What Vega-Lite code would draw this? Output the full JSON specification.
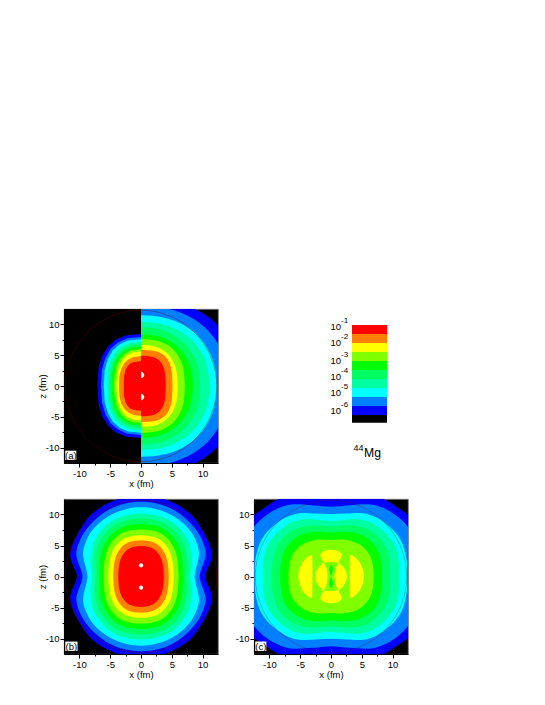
{"$schema":"https://vega.github.io/schema/vega-lite/v6.json","padding":{"left":36,"top":308,"right":0,"bottom":0},"background":"white","bounds":"flush","spacing":36,"columns":2,
"config":{"view":{"fill":"black","stroke":"#777","strokeWidth":0.8},"axis":{"labelFont":"Liberation Sans","titleFont":"Liberation Sans","labelFontSize":9.5,"titleFontSize":9.5,"titleFontWeight":"normal","labelColor":"#000","titleColor":"#000","tickColor":"#000","domainColor":"#000","grid":false,"labelOverlap":false,"labelFlush":false,"labelPadding":1},"axisX":{"titlePadding":1},"axisY":{"titlePadding":-2}},
"datasets":{
"cr":[{"x":12.3,"y":0},{"x":11.36,"y":4.71},{"x":8.7,"y":8.7},{"x":4.71,"y":11.36},{"x":0,"y":12.3},{"x":-4.71,"y":11.36},{"x":-8.7,"y":8.7},{"x":-11.36,"y":4.71},{"x":-12.3,"y":0},{"x":-11.36,"y":-4.71},{"x":-8.7,"y":-8.7},{"x":-4.71,"y":-11.36},{"x":0,"y":-12.3},{"x":4.71,"y":-11.36},{"x":8.7,"y":-8.7},{"x":11.36,"y":-4.71}],
"lab":[{"p":"a","t":"(a)","x":-12.3,"x2":-10.5,"y":-10.5,"y2":-12.0,"tx":-11.4,"ty":-11.3},{"p":"b","t":"(b)","x":-12.3,"x2":-10.3,"y":-10.5,"y2":-12.0,"tx":-11.3,"ty":-11.3},{"p":"c","t":"(c)","x":-12.3,"x2":-10.5,"y":-10.5,"y2":-12.0,"tx":-11.4,"ty":-11.3}],
"ar":[
{"k":9,"x":0,"y":14.5},{"k":9,"x":4.54,"y":14.05},{"k":9,"x":8.26,"y":12.72},{"k":9,"x":11.32,"y":10.9},{"k":9,"x":13.59,"y":8.2},{"k":9,"x":15.02,"y":4.25},{"k":9,"x":15.5,"y":0},{"k":9,"x":15.02,"y":-4.25},{"k":9,"x":13.59,"y":-8.2},{"k":9,"x":11.32,"y":-10.9},{"k":9,"x":8.26,"y":-12.72},{"k":9,"x":4.54,"y":-14.05},{"k":9,"x":0,"y":-14.5},{"k":9,"x":-4.54,"y":-14.05},{"k":9,"x":-4.54,"y":14.05},
{"k":8,"x":0,"y":13},{"k":8,"x":4.16,"y":12.6},{"k":8,"x":7.57,"y":11.4},{"k":8,"x":10.37,"y":9.49},{"k":8,"x":12.45,"y":6.93},{"k":8,"x":13.76,"y":3.81},{"k":8,"x":14.2,"y":0},{"k":8,"x":13.76,"y":-3.81},{"k":8,"x":12.45,"y":-6.93},{"k":8,"x":10.37,"y":-9.49},{"k":8,"x":7.57,"y":-11.4},{"k":8,"x":4.16,"y":-12.6},{"k":8,"x":0,"y":-13},{"k":8,"x":-4.16,"y":-12.6},{"k":8,"x":-4.16,"y":12.6},
{"k":7,"x":0,"y":11.5},{"k":7,"x":3.6,"y":11.14},{"k":7,"x":6.56,"y":10.09},{"k":7,"x":8.98,"y":8.4},{"k":7,"x":10.79,"y":6.13},{"k":7,"x":11.92,"y":3.37},{"k":7,"x":12.3,"y":0},{"k":7,"x":11.92,"y":-3.37},{"k":7,"x":10.79,"y":-6.13},{"k":7,"x":8.98,"y":-8.4},{"k":7,"x":6.56,"y":-10.09},{"k":7,"x":3.6,"y":-11.14},{"k":7,"x":0,"y":-11.5},{"k":7,"x":-3.6,"y":-11.14},{"k":7,"x":-3.6,"y":11.14},
{"k":6,"x":0,"y":10.4},{"k":6,"x":3.25,"y":10.08},{"k":6,"x":5.92,"y":9.12},{"k":6,"x":8.1,"y":7.59},{"k":6,"x":9.73,"y":5.54},{"k":6,"x":10.76,"y":3.05},{"k":6,"x":11.1,"y":0},{"k":6,"x":10.76,"y":-3.05},{"k":6,"x":9.73,"y":-5.54},{"k":6,"x":8.1,"y":-7.59},{"k":6,"x":5.92,"y":-9.12},{"k":6,"x":3.25,"y":-10.08},{"k":6,"x":0,"y":-10.4},{"k":6,"x":-3.25,"y":-10.08},{"k":6,"x":-3.25,"y":10.08},
{"k":5,"x":0,"y":9.5},{"k":5,"x":2.81,"y":9.21},{"k":5,"x":5.12,"y":8.33},{"k":5,"x":7.01,"y":6.94},{"k":5,"x":8.42,"y":5.06},{"k":5,"x":9.3,"y":2.78},{"k":5,"x":9.6,"y":0},{"k":5,"x":9.3,"y":-2.78},{"k":5,"x":8.42,"y":-5.06},{"k":5,"x":7.01,"y":-6.94},{"k":5,"x":5.12,"y":-8.33},{"k":5,"x":2.81,"y":-9.21},{"k":5,"x":0,"y":-9.5},{"k":5,"x":-2.81,"y":-9.21},{"k":5,"x":-2.81,"y":9.21},
{"k":4,"x":0,"y":8.4},{"k":4,"x":2.46,"y":8.14},{"k":4,"x":4.48,"y":7.37},{"k":4,"x":6.13,"y":6.13},{"k":4,"x":7.37,"y":4.48},{"k":4,"x":8.14,"y":2.46},{"k":4,"x":8.4,"y":0},{"k":4,"x":8.14,"y":-2.46},{"k":4,"x":7.37,"y":-4.48},{"k":4,"x":6.13,"y":-6.13},{"k":4,"x":4.48,"y":-7.37},{"k":4,"x":2.46,"y":-8.14},{"k":4,"x":0,"y":-8.4},{"k":4,"x":-2.46,"y":-8.14},{"k":4,"x":-2.46,"y":8.14},
{"k":3,"x":0,"y":7.6},{"k":3,"x":2.41,"y":7.39},{"k":3,"x":4.08,"y":6.77},{"k":3,"x":5.38,"y":5.76},{"k":3,"x":6.33,"y":4.36},{"k":3,"x":6.91,"y":2.58},{"k":3,"x":7.1,"y":0},{"k":3,"x":6.91,"y":-2.58},{"k":3,"x":6.33,"y":-4.36},{"k":3,"x":5.38,"y":-5.76},{"k":3,"x":4.08,"y":-6.77},{"k":3,"x":2.41,"y":-7.39},{"k":3,"x":0,"y":-7.6},{"k":3,"x":-2.41,"y":-7.39},{"k":3,"x":-2.41,"y":7.39},
{"k":2,"x":0,"y":6.65},{"k":2,"x":2.02,"y":6.47},{"k":2,"x":3.42,"y":5.93},{"k":2,"x":4.51,"y":5.04},{"k":2,"x":5.3,"y":3.82},{"k":2,"x":5.79,"y":2.26},{"k":2,"x":5.95,"y":0},{"k":2,"x":5.79,"y":-2.26},{"k":2,"x":5.3,"y":-3.82},{"k":2,"x":4.51,"y":-5.04},{"k":2,"x":3.42,"y":-5.93},{"k":2,"x":2.02,"y":-6.47},{"k":2,"x":0,"y":-6.65},{"k":2,"x":-2.02,"y":-6.47},{"k":2,"x":-2.02,"y":6.47},
{"k":1,"x":0,"y":5.85},{"k":1,"x":2.07,"y":5.72},{"k":1,"x":3.21,"y":5.32},{"k":1,"x":4.05,"y":4.65},{"k":1,"x":4.64,"y":3.69},{"k":1,"x":4.98,"y":2.38},{"k":1,"x":5.1,"y":0},{"k":1,"x":4.98,"y":-2.38},{"k":1,"x":4.64,"y":-3.69},{"k":1,"x":4.05,"y":-4.65},{"k":1,"x":3.21,"y":-5.32},{"k":1,"x":2.07,"y":-5.72},{"k":1,"x":0,"y":-5.85},{"k":1,"x":-2.07,"y":-5.72},{"k":1,"x":-2.07,"y":5.72},
{"k":0,"x":0,"y":4.9},{"k":0,"x":1.62,"y":4.79},{"k":0,"x":2.52,"y":4.45},{"k":0,"x":3.18,"y":3.89},{"k":0,"x":3.64,"y":3.09},{"k":0,"x":3.91,"y":1.99},{"k":0,"x":4,"y":0},{"k":0,"x":3.91,"y":-1.99},{"k":0,"x":3.64,"y":-3.09},{"k":0,"x":3.18,"y":-3.89},{"k":0,"x":2.52,"y":-4.45},{"k":0,"x":1.62,"y":-4.79},{"k":0,"x":0,"y":-4.9},{"k":0,"x":-1.62,"y":-4.79},{"k":0,"x":-1.62,"y":4.79}
],
"al":[
{"k":10,"x":0,"y":14},{"k":10,"x":-14,"y":14},{"k":10,"x":-14,"y":-14},{"k":10,"x":0,"y":-14},
{"k":9,"x":0,"y":8.45},{"k":9,"x":-2.41,"y":8.22},{"k":9,"x":-4.08,"y":7.53},{"k":9,"x":-5.38,"y":6.41},{"k":9,"x":-6.33,"y":4.85},{"k":9,"x":-6.91,"y":2.87},{"k":9,"x":-7.1,"y":0},{"k":9,"x":-6.91,"y":-2.87},{"k":9,"x":-6.33,"y":-4.85},{"k":9,"x":-5.38,"y":-6.41},{"k":9,"x":-4.08,"y":-7.53},{"k":9,"x":-2.41,"y":-8.22},{"k":9,"x":0,"y":-8.45},
{"k":8,"x":0,"y":7.95},{"k":8,"x":-2.21,"y":7.74},{"k":8,"x":-3.73,"y":7.08},{"k":8,"x":-4.93,"y":6.03},{"k":8,"x":-5.79,"y":4.56},{"k":8,"x":-6.32,"y":2.7},{"k":8,"x":-6.5,"y":0},{"k":8,"x":-6.32,"y":-2.7},{"k":8,"x":-5.79,"y":-4.56},{"k":8,"x":-4.93,"y":-6.03},{"k":8,"x":-3.73,"y":-7.08},{"k":8,"x":-2.21,"y":-7.74},{"k":8,"x":0,"y":-7.95},
{"k":7,"x":0,"y":7.6},{"k":7,"x":-2.06,"y":7.39},{"k":7,"x":-3.47,"y":6.77},{"k":7,"x":-4.59,"y":5.76},{"k":7,"x":-5.39,"y":4.36},{"k":7,"x":-5.89,"y":2.58},{"k":7,"x":-6.05,"y":0},{"k":7,"x":-5.89,"y":-2.58},{"k":7,"x":-5.39,"y":-4.36},{"k":7,"x":-4.59,"y":-5.76},{"k":7,"x":-3.47,"y":-6.77},{"k":7,"x":-2.06,"y":-7.39},{"k":7,"x":0,"y":-7.6},
{"k":6,"x":0,"y":7.2},{"k":6,"x":-1.89,"y":7},{"k":6,"x":-3.19,"y":6.42},{"k":6,"x":-4.21,"y":5.46},{"k":6,"x":-4.94,"y":4.13},{"k":6,"x":-5.4,"y":2.45},{"k":6,"x":-5.55,"y":0},{"k":6,"x":-5.4,"y":-2.45},{"k":6,"x":-4.94,"y":-4.13},{"k":6,"x":-4.21,"y":-5.46},{"k":6,"x":-3.19,"y":-6.42},{"k":6,"x":-1.89,"y":-7},{"k":6,"x":0,"y":-7.2},
{"k":5,"x":0,"y":6.8},{"k":5,"x":-1.77,"y":6.62},{"k":5,"x":-2.98,"y":6.06},{"k":5,"x":-3.94,"y":5.15},{"k":5,"x":-4.63,"y":3.9},{"k":5,"x":-5.06,"y":2.31},{"k":5,"x":-5.2,"y":0},{"k":5,"x":-5.06,"y":-2.31},{"k":5,"x":-4.63,"y":-3.9},{"k":5,"x":-3.94,"y":-5.15},{"k":5,"x":-2.98,"y":-6.06},{"k":5,"x":-1.77,"y":-6.62},{"k":5,"x":0,"y":-6.8},
{"k":4,"x":0,"y":6.4},{"k":4,"x":-1.63,"y":6.23},{"k":4,"x":-2.76,"y":5.7},{"k":4,"x":-3.64,"y":4.85},{"k":4,"x":-4.28,"y":3.67},{"k":4,"x":-4.67,"y":2.18},{"k":4,"x":-4.8,"y":0},{"k":4,"x":-4.67,"y":-2.18},{"k":4,"x":-4.28,"y":-3.67},{"k":4,"x":-3.64,"y":-4.85},{"k":4,"x":-2.76,"y":-5.7},{"k":4,"x":-1.63,"y":-6.23},{"k":4,"x":0,"y":-6.4},
{"k":3,"x":0,"y":6},{"k":3,"x":-1.5,"y":5.84},{"k":3,"x":-2.53,"y":5.35},{"k":3,"x":-3.34,"y":4.55},{"k":3,"x":-3.92,"y":3.44},{"k":3,"x":-4.28,"y":2.04},{"k":3,"x":-4.4,"y":0},{"k":3,"x":-4.28,"y":-2.04},{"k":3,"x":-3.92,"y":-3.44},{"k":3,"x":-3.34,"y":-4.55},{"k":3,"x":-2.53,"y":-5.35},{"k":3,"x":-1.5,"y":-5.84},{"k":3,"x":0,"y":-6},
{"k":2,"x":0,"y":5.6},{"k":2,"x":-1.36,"y":5.45},{"k":2,"x":-2.3,"y":4.99},{"k":2,"x":-3.03,"y":4.24},{"k":2,"x":-3.56,"y":3.21},{"k":2,"x":-3.89,"y":1.9},{"k":2,"x":-4,"y":0},{"k":2,"x":-3.89,"y":-1.9},{"k":2,"x":-3.56,"y":-3.21},{"k":2,"x":-3.03,"y":-4.24},{"k":2,"x":-2.3,"y":-4.99},{"k":2,"x":-1.36,"y":-5.45},{"k":2,"x":0,"y":-5.6},
{"k":1,"x":0,"y":4.85},{"k":1,"x":-1.22,"y":4.72},{"k":1,"x":-2.07,"y":4.32},{"k":1,"x":-2.73,"y":3.68},{"k":1,"x":-3.21,"y":2.78},{"k":1,"x":-3.5,"y":1.65},{"k":1,"x":-3.6,"y":0},{"k":1,"x":-3.5,"y":-1.65},{"k":1,"x":-3.21,"y":-2.78},{"k":1,"x":-2.73,"y":-3.68},{"k":1,"x":-2.07,"y":-4.32},{"k":1,"x":-1.22,"y":-4.72},{"k":1,"x":0,"y":-4.85},
{"k":0,"x":0,"y":4},{"k":0,"x":-1.14,"y":3.91},{"k":0,"x":-1.76,"y":3.64},{"k":0,"x":-2.22,"y":3.18},{"k":0,"x":-2.55,"y":2.52},{"k":0,"x":-2.74,"y":1.62},{"k":0,"x":-2.8,"y":0},{"k":0,"x":-2.74,"y":-1.62},{"k":0,"x":-2.55,"y":-2.52},{"k":0,"x":-2.22,"y":-3.18},{"k":0,"x":-1.76,"y":-3.64},{"k":0,"x":-1.14,"y":-3.91},{"k":0,"x":0,"y":-4}
],
"adots":[{"s":1,"k":11,"x":0,"y":2.35},{"s":1,"k":11,"x":0.35,"y":2.2},{"s":1,"k":11,"x":0.55,"y":1.8},{"s":1,"k":11,"x":0.35,"y":1.4},{"s":1,"k":11,"x":0,"y":1.25},{"s":2,"k":11,"x":0,"y":-1.25},{"s":2,"k":11,"x":0.35,"y":-1.4},{"s":2,"k":11,"x":0.55,"y":-1.8},{"s":2,"k":11,"x":0.35,"y":-2.2},{"s":2,"k":11,"x":0,"y":-2.35}],
"bd":[{"x":0,"y":1.8},{"x":0,"y":-1.8}],
"b":[
{"k":9,"x":10.4,"y":0},{"k":9,"x":10.7,"y":1},{"k":9,"x":11.3,"y":2.4},{"k":9,"x":11.5,"y":3.6},{"k":9,"x":11.0,"y":5.5},{"k":9,"x":9.9,"y":7.6},{"k":9,"x":8.2,"y":9.9},{"k":9,"x":5.8,"y":11.6},{"k":9,"x":3,"y":12.7},{"k":9,"x":0,"y":13.1},{"k":9,"x":-3,"y":12.7},{"k":9,"x":-5.8,"y":11.6},{"k":9,"x":-8.2,"y":9.9},{"k":9,"x":-9.9,"y":7.6},{"k":9,"x":-11.0,"y":5.5},{"k":9,"x":-11.5,"y":3.6},{"k":9,"x":-11.3,"y":2.4},{"k":9,"x":-10.7,"y":1},{"k":9,"x":-10.4,"y":0},{"k":9,"x":-10.7,"y":-1},{"k":9,"x":-11.3,"y":-2.4},{"k":9,"x":-11.5,"y":-3.6},{"k":9,"x":-11.0,"y":-5.5},{"k":9,"x":-9.9,"y":-7.6},{"k":9,"x":-8.2,"y":-9.9},{"k":9,"x":-5.8,"y":-11.6},{"k":9,"x":-3,"y":-12.7},{"k":9,"x":0,"y":-13.1},{"k":9,"x":3,"y":-12.7},{"k":9,"x":5.8,"y":-11.6},{"k":9,"x":8.2,"y":-9.9},{"k":9,"x":9.9,"y":-7.6},{"k":9,"x":11.0,"y":-5.5},{"k":9,"x":11.5,"y":-3.6},{"k":9,"x":11.3,"y":-2.4},{"k":9,"x":10.7,"y":-1},
{"k":8,"x":9.5,"y":0},{"k":8,"x":9.75,"y":1.1},{"k":8,"x":10.3,"y":2.6},{"k":8,"x":10.5,"y":3.8},{"k":8,"x":10.1,"y":5.4},{"k":8,"x":9.1,"y":7.3},{"k":8,"x":7.4,"y":9.2},{"k":8,"x":5.2,"y":10.8},{"k":8,"x":2.7,"y":11.75},{"k":8,"x":0,"y":12.05},{"k":8,"x":-2.7,"y":11.75},{"k":8,"x":-5.2,"y":10.8},{"k":8,"x":-7.4,"y":9.2},{"k":8,"x":-9.1,"y":7.3},{"k":8,"x":-10.1,"y":5.4},{"k":8,"x":-10.5,"y":3.8},{"k":8,"x":-10.3,"y":2.6},{"k":8,"x":-9.75,"y":1.1},{"k":8,"x":-9.5,"y":0},{"k":8,"x":-9.75,"y":-1.1},{"k":8,"x":-10.3,"y":-2.6},{"k":8,"x":-10.5,"y":-3.8},{"k":8,"x":-10.1,"y":-5.4},{"k":8,"x":-9.1,"y":-7.3},{"k":8,"x":-7.4,"y":-9.2},{"k":8,"x":-5.2,"y":-10.8},{"k":8,"x":-2.7,"y":-11.75},{"k":8,"x":0,"y":-12.05},{"k":8,"x":2.7,"y":-11.75},{"k":8,"x":5.2,"y":-10.8},{"k":8,"x":7.4,"y":-9.2},{"k":8,"x":9.1,"y":-7.3},{"k":8,"x":10.1,"y":-5.4},{"k":8,"x":10.5,"y":-3.8},{"k":8,"x":10.3,"y":-2.6},{"k":8,"x":9.75,"y":-1.1},
{"k":7,"x":8.7,"y":0},{"k":7,"x":8.9,"y":1.2},{"k":7,"x":9.3,"y":2.8},{"k":7,"x":9.4,"y":4},{"k":7,"x":9,"y":5.5},{"k":7,"x":8.1,"y":7.2},{"k":7,"x":6.6,"y":8.8},{"k":7,"x":4.6,"y":10.1},{"k":7,"x":2.3,"y":10.9},{"k":7,"x":0,"y":11.15},{"k":7,"x":-2.3,"y":10.9},{"k":7,"x":-4.6,"y":10.1},{"k":7,"x":-6.6,"y":8.8},{"k":7,"x":-8.1,"y":7.2},{"k":7,"x":-9,"y":5.5},{"k":7,"x":-9.4,"y":4},{"k":7,"x":-9.3,"y":2.8},{"k":7,"x":-8.9,"y":1.2},{"k":7,"x":-8.7,"y":0},{"k":7,"x":-8.9,"y":-1.2},{"k":7,"x":-9.3,"y":-2.8},{"k":7,"x":-9.4,"y":-4},{"k":7,"x":-9,"y":-5.5},{"k":7,"x":-8.1,"y":-7.2},{"k":7,"x":-6.6,"y":-8.8},{"k":7,"x":-4.6,"y":-10.1},{"k":7,"x":-2.3,"y":-10.9},{"k":7,"x":0,"y":-11.15},{"k":7,"x":2.3,"y":-10.9},{"k":7,"x":4.6,"y":-10.1},{"k":7,"x":6.6,"y":-8.8},{"k":7,"x":8.1,"y":-7.2},{"k":7,"x":9,"y":-5.5},{"k":7,"x":9.4,"y":-4},{"k":7,"x":9.3,"y":-2.8},{"k":7,"x":8.9,"y":-1.2},
{"k":6,"x":8,"y":0},{"k":6,"x":8.2,"y":2.8},{"k":6,"x":7.7,"y":5.5},{"k":6,"x":6.1,"y":7.9},{"k":6,"x":3.6,"y":9.5},{"k":6,"x":0,"y":10.15},{"k":6,"x":-3.6,"y":9.5},{"k":6,"x":-6.1,"y":7.9},{"k":6,"x":-7.7,"y":5.5},{"k":6,"x":-8.2,"y":2.8},{"k":6,"x":-8,"y":0},{"k":6,"x":-8.2,"y":-2.8},{"k":6,"x":-7.7,"y":-5.5},{"k":6,"x":-6.1,"y":-7.9},{"k":6,"x":-3.6,"y":-9.5},{"k":6,"x":0,"y":-10.15},{"k":6,"x":3.6,"y":-9.5},{"k":6,"x":6.1,"y":-7.9},{"k":6,"x":7.7,"y":-5.5},{"k":6,"x":8.2,"y":-2.8},
{"k":5,"x":7.4,"y":0},{"k":5,"x":7.45,"y":2.6},{"k":5,"x":6.9,"y":5.2},{"k":5,"x":5.6,"y":7.2},{"k":5,"x":3.4,"y":8.75},{"k":5,"x":0,"y":9.35},{"k":5,"x":-3.4,"y":8.75},{"k":5,"x":-5.6,"y":7.2},{"k":5,"x":-6.9,"y":5.2},{"k":5,"x":-7.45,"y":2.6},{"k":5,"x":-7.4,"y":0},{"k":5,"x":-7.45,"y":-2.6},{"k":5,"x":-6.9,"y":-5.2},{"k":5,"x":-5.6,"y":-7.2},{"k":5,"x":-3.4,"y":-8.75},{"k":5,"x":0,"y":-9.35},{"k":5,"x":3.4,"y":-8.75},{"k":5,"x":5.6,"y":-7.2},{"k":5,"x":6.9,"y":-5.2},{"k":5,"x":7.45,"y":-2.6},
{"k":4,"x":6.8,"y":0},{"k":4,"x":6.45,"y":3.9},{"k":4,"x":5.2,"y":6.35},{"k":4,"x":3.1,"y":7.95},{"k":4,"x":0,"y":8.45},{"k":4,"x":-3.1,"y":7.95},{"k":4,"x":-5.2,"y":6.35},{"k":4,"x":-6.45,"y":3.9},{"k":4,"x":-6.8,"y":0},{"k":4,"x":-6.45,"y":-3.9},{"k":4,"x":-5.2,"y":-6.35},{"k":4,"x":-3.1,"y":-7.95},{"k":4,"x":0,"y":-8.45},{"k":4,"x":3.1,"y":-7.95},{"k":4,"x":5.2,"y":-6.35},{"k":4,"x":6.45,"y":-3.9},
{"k":3,"x":6.1,"y":0},{"k":3,"x":5.73,"y":3.53},{"k":3,"x":4.62,"y":5.76},{"k":3,"x":2.83,"y":7.14},{"k":3,"x":0,"y":7.6},{"k":3,"x":-2.83,"y":7.14},{"k":3,"x":-4.62,"y":5.76},{"k":3,"x":-5.73,"y":3.53},{"k":3,"x":-6.1,"y":0},{"k":3,"x":-5.73,"y":-3.53},{"k":3,"x":-4.62,"y":-5.76},{"k":3,"x":-2.83,"y":-7.14},{"k":3,"x":0,"y":-7.6},{"k":3,"x":2.83,"y":-7.14},{"k":3,"x":4.62,"y":-5.76},{"k":3,"x":5.73,"y":-3.53},
{"k":2,"x":5.3,"y":0},{"k":2,"x":4.98,"y":3.09},{"k":2,"x":4.02,"y":5.04},{"k":2,"x":2.46,"y":6.24},{"k":2,"x":0,"y":6.65},{"k":2,"x":-2.46,"y":6.24},{"k":2,"x":-4.02,"y":5.04},{"k":2,"x":-4.98,"y":3.09},{"k":2,"x":-5.3,"y":0},{"k":2,"x":-4.98,"y":-3.09},{"k":2,"x":-4.02,"y":-5.04},{"k":2,"x":-2.46,"y":-6.24},{"k":2,"x":0,"y":-6.65},{"k":2,"x":2.46,"y":-6.24},{"k":2,"x":4.02,"y":-5.04},{"k":2,"x":4.98,"y":-3.09},
{"k":1,"x":4.5,"y":0},{"k":1,"x":4.23,"y":2.71},{"k":1,"x":3.41,"y":4.43},{"k":1,"x":2.09,"y":5.49},{"k":1,"x":0,"y":5.85},{"k":1,"x":-2.09,"y":5.49},{"k":1,"x":-3.41,"y":4.43},{"k":1,"x":-4.23,"y":2.71},{"k":1,"x":-4.5,"y":0},{"k":1,"x":-4.23,"y":-2.71},{"k":1,"x":-3.41,"y":-4.43},{"k":1,"x":-2.09,"y":-5.49},{"k":1,"x":0,"y":-5.85},{"k":1,"x":2.09,"y":-5.49},{"k":1,"x":3.41,"y":-4.43},{"k":1,"x":4.23,"y":-2.71},
{"k":0,"x":3.7,"y":0},{"k":0,"x":3.47,"y":2.27},{"k":0,"x":2.8,"y":3.71},{"k":0,"x":1.72,"y":4.6},{"k":0,"x":0,"y":4.9},{"k":0,"x":-1.72,"y":4.6},{"k":0,"x":-2.8,"y":3.71},{"k":0,"x":-3.47,"y":2.27},{"k":0,"x":-3.7,"y":0},{"k":0,"x":-3.47,"y":-2.27},{"k":0,"x":-2.8,"y":-3.71},{"k":0,"x":-1.72,"y":-4.6},{"k":0,"x":0,"y":-4.9},{"k":0,"x":1.72,"y":-4.6},{"k":0,"x":2.8,"y":-3.71},{"k":0,"x":3.47,"y":-2.27}
],
"c":[
{"k":9,"x":15,"y":0},{"k":9,"x":15,"y":6},{"k":9,"x":14,"y":8.6},{"k":9,"x":12.5,"y":9.9},{"k":9,"x":10.5,"y":11.3},{"k":9,"x":8.7,"y":12.4},{"k":9,"x":6,"y":13.5},{"k":9,"x":0,"y":14},{"k":9,"x":-6,"y":13.5},{"k":9,"x":-8.7,"y":12.4},{"k":9,"x":-10.5,"y":11.3},{"k":9,"x":-12.5,"y":9.9},{"k":9,"x":-14,"y":8.6},{"k":9,"x":-15,"y":6},{"k":9,"x":-15,"y":0},{"k":9,"x":-15,"y":-6},{"k":9,"x":-14,"y":-8.6},{"k":9,"x":-12.5,"y":-9.9},{"k":9,"x":-10.5,"y":-11.3},{"k":9,"x":-8.7,"y":-12.4},{"k":9,"x":-6,"y":-13.5},{"k":9,"x":0,"y":-14},{"k":9,"x":6,"y":-13.5},{"k":9,"x":8.7,"y":-12.4},{"k":9,"x":10.5,"y":-11.3},{"k":9,"x":12.5,"y":-9.9},{"k":9,"x":14,"y":-8.6},{"k":9,"x":15,"y":-6},
{"k":8,"x":14,"y":0},{"k":8,"x":14,"y":4},{"k":8,"x":13.4,"y":6.6},{"k":8,"x":12.5,"y":8},{"k":8,"x":11,"y":9.5},{"k":8,"x":9,"y":10.8},{"k":8,"x":6.5,"y":11.6},{"k":8,"x":3,"y":11.5},{"k":8,"x":0,"y":11.25},{"k":8,"x":-3,"y":11.5},{"k":8,"x":-6.5,"y":11.6},{"k":8,"x":-9,"y":10.8},{"k":8,"x":-11,"y":9.5},{"k":8,"x":-12.5,"y":8},{"k":8,"x":-13.4,"y":6.6},{"k":8,"x":-14,"y":4},{"k":8,"x":-14,"y":0},{"k":8,"x":-14,"y":-4},{"k":8,"x":-13.4,"y":-6.6},{"k":8,"x":-12.5,"y":-8},{"k":8,"x":-11,"y":-9.5},{"k":8,"x":-9,"y":-10.8},{"k":8,"x":-6.5,"y":-11.6},{"k":8,"x":-3,"y":-11.5},{"k":8,"x":0,"y":-11.25},{"k":8,"x":3,"y":-11.5},{"k":8,"x":6.5,"y":-11.6},{"k":8,"x":9,"y":-10.8},{"k":8,"x":11,"y":-9.5},{"k":8,"x":12.5,"y":-8},{"k":8,"x":13.4,"y":-6.6},{"k":8,"x":14,"y":-4},
{"k":7,"x":12.35,"y":0},{"k":7,"x":12.3,"y":2.5},{"k":7,"x":11.7,"y":5},{"k":7,"x":10.7,"y":6.8},{"k":7,"x":9.3,"y":8.2},{"k":7,"x":7.4,"y":9.5},{"k":7,"x":5.2,"y":10.2},{"k":7,"x":2.5,"y":10.15},{"k":7,"x":0,"y":10.05},{"k":7,"x":-2.5,"y":10.15},{"k":7,"x":-5.2,"y":10.2},{"k":7,"x":-7.4,"y":9.5},{"k":7,"x":-9.3,"y":8.2},{"k":7,"x":-10.7,"y":6.8},{"k":7,"x":-11.7,"y":5},{"k":7,"x":-12.3,"y":2.5},{"k":7,"x":-12.35,"y":0},{"k":7,"x":-12.3,"y":-2.5},{"k":7,"x":-11.7,"y":-5},{"k":7,"x":-10.7,"y":-6.8},{"k":7,"x":-9.3,"y":-8.2},{"k":7,"x":-7.4,"y":-9.5},{"k":7,"x":-5.2,"y":-10.2},{"k":7,"x":-2.5,"y":-10.15},{"k":7,"x":0,"y":-10.05},{"k":7,"x":2.5,"y":-10.15},{"k":7,"x":5.2,"y":-10.2},{"k":7,"x":7.4,"y":-9.5},{"k":7,"x":9.3,"y":-8.2},{"k":7,"x":10.7,"y":-6.8},{"k":7,"x":11.7,"y":-5},{"k":7,"x":12.3,"y":-2.5},
{"k":6,"x":11.1,"y":0},{"k":6,"x":11,"y":2.5},{"k":6,"x":10.4,"y":4.8},{"k":6,"x":9.3,"y":6.5},{"k":6,"x":7.8,"y":7.9},{"k":6,"x":6,"y":8.9},{"k":6,"x":4,"y":9.25},{"k":6,"x":2,"y":9.1},{"k":6,"x":0,"y":8.97},{"k":6,"x":-2,"y":9.1},{"k":6,"x":-4,"y":9.25},{"k":6,"x":-6,"y":8.9},{"k":6,"x":-7.8,"y":7.9},{"k":6,"x":-9.3,"y":6.5},{"k":6,"x":-10.4,"y":4.8},{"k":6,"x":-11,"y":2.5},{"k":6,"x":-11.1,"y":0},{"k":6,"x":-11,"y":-2.5},{"k":6,"x":-10.4,"y":-4.8},{"k":6,"x":-9.3,"y":-6.5},{"k":6,"x":-7.8,"y":-7.9},{"k":6,"x":-6,"y":-8.9},{"k":6,"x":-4,"y":-9.25},{"k":6,"x":-2,"y":-9.1},{"k":6,"x":0,"y":-8.97},{"k":6,"x":2,"y":-9.1},{"k":6,"x":4,"y":-9.25},{"k":6,"x":6,"y":-8.9},{"k":6,"x":7.8,"y":-7.9},{"k":6,"x":9.3,"y":-6.5},{"k":6,"x":10.4,"y":-4.8},{"k":6,"x":11,"y":-2.5},
{"k":5,"x":9.6,"y":0},{"k":5,"x":9.5,"y":2.3},{"k":5,"x":9,"y":4.3},{"k":5,"x":8,"y":6},{"k":5,"x":6.6,"y":7.2},{"k":5,"x":5,"y":7.95},{"k":5,"x":2.8,"y":8.25},{"k":5,"x":0,"y":8.05},{"k":5,"x":-2.8,"y":8.25},{"k":5,"x":-5,"y":7.95},{"k":5,"x":-6.6,"y":7.2},{"k":5,"x":-8,"y":6},{"k":5,"x":-9,"y":4.3},{"k":5,"x":-9.5,"y":2.3},{"k":5,"x":-9.6,"y":0},{"k":5,"x":-9.5,"y":-2.3},{"k":5,"x":-9,"y":-4.3},{"k":5,"x":-8,"y":-6},{"k":5,"x":-6.6,"y":-7.2},{"k":5,"x":-5,"y":-7.95},{"k":5,"x":-2.8,"y":-8.25},{"k":5,"x":0,"y":-8.05},{"k":5,"x":2.8,"y":-8.25},{"k":5,"x":5,"y":-7.95},{"k":5,"x":6.6,"y":-7.2},{"k":5,"x":8,"y":-6},{"k":5,"x":9,"y":-4.3},{"k":5,"x":9.5,"y":-2.3},
{"k":4,"x":8.25,"y":0},{"k":4,"x":8.15,"y":2},{"k":4,"x":7.7,"y":3.9},{"k":4,"x":6.9,"y":5.2},{"k":4,"x":5.6,"y":6.35},{"k":4,"x":4,"y":7},{"k":4,"x":2,"y":7.2},{"k":4,"x":0,"y":7.08},{"k":4,"x":-2,"y":7.2},{"k":4,"x":-4,"y":7},{"k":4,"x":-5.6,"y":6.35},{"k":4,"x":-6.9,"y":5.2},{"k":4,"x":-7.7,"y":3.9},{"k":4,"x":-8.15,"y":2},{"k":4,"x":-8.25,"y":0},{"k":4,"x":-8.15,"y":-2},{"k":4,"x":-7.7,"y":-3.9},{"k":4,"x":-6.9,"y":-5.2},{"k":4,"x":-5.6,"y":-6.35},{"k":4,"x":-4,"y":-7},{"k":4,"x":-2,"y":-7.2},{"k":4,"x":0,"y":-7.08},{"k":4,"x":2,"y":-7.2},{"k":4,"x":4,"y":-7},{"k":4,"x":5.6,"y":-6.35},{"k":4,"x":6.9,"y":-5.2},{"k":4,"x":7.7,"y":-3.9},{"k":4,"x":8.15,"y":-2},
{"k":3,"x":6.9,"y":0},{"k":3,"x":6.8,"y":1.8},{"k":3,"x":6.3,"y":3.4},{"k":3,"x":5.4,"y":4.6},{"k":3,"x":4.2,"y":5.4},{"k":3,"x":2.8,"y":5.85},{"k":3,"x":1.4,"y":5.95},{"k":3,"x":0,"y":5.9},{"k":3,"x":-1.4,"y":5.95},{"k":3,"x":-2.8,"y":5.85},{"k":3,"x":-4.2,"y":5.4},{"k":3,"x":-5.4,"y":4.6},{"k":3,"x":-6.3,"y":3.4},{"k":3,"x":-6.8,"y":1.8},{"k":3,"x":-6.9,"y":0},{"k":3,"x":-6.8,"y":-1.8},{"k":3,"x":-6.3,"y":-3.4},{"k":3,"x":-5.4,"y":-4.6},{"k":3,"x":-4.2,"y":-5.4},{"k":3,"x":-2.8,"y":-5.85},{"k":3,"x":-1.4,"y":-5.95},{"k":3,"x":0,"y":-5.9},{"k":3,"x":1.4,"y":-5.95},{"k":3,"x":2.8,"y":-5.85},{"k":3,"x":4.2,"y":-5.4},{"k":3,"x":5.4,"y":-4.6},{"k":3,"x":6.3,"y":-3.4},{"k":3,"x":6.8,"y":-1.8}
],
"c2":[
{"s":1,"k":2,"x":3,"y":0},{"s":1,"k":2,"x":3.02,"y":1.7},{"s":1,"k":2,"x":3.05,"y":3.45},{"s":1,"k":2,"x":3.5,"y":3.4},{"s":1,"k":2,"x":4.05,"y":3},{"s":1,"k":2,"x":4.7,"y":2.2},{"s":1,"k":2,"x":5.2,"y":1.1},{"s":1,"k":2,"x":5.35,"y":0},{"s":1,"k":2,"x":5.2,"y":-1.1},{"s":1,"k":2,"x":4.7,"y":-2.2},{"s":1,"k":2,"x":4.05,"y":-3},{"s":1,"k":2,"x":3.5,"y":-3.4},{"s":1,"k":2,"x":3.05,"y":-3.45},{"s":1,"k":2,"x":3.02,"y":-1.7},
{"s":2,"k":2,"x":-3,"y":0},{"s":2,"k":2,"x":-3.02,"y":1.7},{"s":2,"k":2,"x":-3.05,"y":3.45},{"s":2,"k":2,"x":-3.5,"y":3.4},{"s":2,"k":2,"x":-4.05,"y":3},{"s":2,"k":2,"x":-4.7,"y":2.2},{"s":2,"k":2,"x":-5.2,"y":1.1},{"s":2,"k":2,"x":-5.35,"y":0},{"s":2,"k":2,"x":-5.2,"y":-1.1},{"s":2,"k":2,"x":-4.7,"y":-2.2},{"s":2,"k":2,"x":-4.05,"y":-3},{"s":2,"k":2,"x":-3.5,"y":-3.4},{"s":2,"k":2,"x":-3.05,"y":-3.45},{"s":2,"k":2,"x":-3.02,"y":-1.7},
{"s":3,"k":2,"x":0,"y":4.3},{"s":3,"k":2,"x":0.8,"y":4.25},{"s":3,"k":2,"x":1.4,"y":4},{"s":3,"k":2,"x":1.8,"y":3.55},{"s":3,"k":2,"x":1.6,"y":3},{"s":3,"k":2,"x":1.25,"y":2.4},{"s":3,"k":2,"x":1.35,"y":2.15},{"s":3,"k":2,"x":2,"y":1.55},{"s":3,"k":2,"x":2.45,"y":0.8},{"s":3,"k":2,"x":2.6,"y":0},{"s":3,"k":2,"x":2.45,"y":-0.8},{"s":3,"k":2,"x":2,"y":-1.55},{"s":3,"k":2,"x":1.35,"y":-2.15},{"s":3,"k":2,"x":1.25,"y":-2.4},{"s":3,"k":2,"x":1.6,"y":-3},{"s":3,"k":2,"x":1.8,"y":-3.55},{"s":3,"k":2,"x":1.4,"y":-4},{"s":3,"k":2,"x":0.8,"y":-4.25},{"s":3,"k":2,"x":0,"y":-4.3},{"s":3,"k":2,"x":-0.8,"y":-4.25},{"s":3,"k":2,"x":-1.4,"y":-4},{"s":3,"k":2,"x":-1.8,"y":-3.55},{"s":3,"k":2,"x":-1.6,"y":-3},{"s":3,"k":2,"x":-1.25,"y":-2.4},{"s":3,"k":2,"x":-1.35,"y":-2.15},{"s":3,"k":2,"x":-2,"y":-1.55},{"s":3,"k":2,"x":-2.45,"y":-0.8},{"s":3,"k":2,"x":-2.6,"y":0},{"s":3,"k":2,"x":-2.45,"y":0.8},{"s":3,"k":2,"x":-2,"y":1.55},{"s":3,"k":2,"x":-1.35,"y":2.15},{"s":3,"k":2,"x":-1.25,"y":2.4},{"s":3,"k":2,"x":-1.6,"y":3},{"s":3,"k":2,"x":-1.8,"y":3.55},{"s":3,"k":2,"x":-1.4,"y":4},{"s":3,"k":2,"x":-0.8,"y":4.25},
{"s":4,"k":3,"x":-1.25,"y":2.25},{"s":4,"k":3,"x":0,"y":2.35},{"s":4,"k":3,"x":1.25,"y":2.25},{"s":4,"k":3,"x":1,"y":1.9},{"s":4,"k":3,"x":0.7,"y":1.2},{"s":4,"k":3,"x":0.55,"y":0},{"s":4,"k":3,"x":0.7,"y":-1.2},{"s":4,"k":3,"x":1,"y":-1.9},{"s":4,"k":3,"x":1.25,"y":-2.25},{"s":4,"k":3,"x":0,"y":-2.35},{"s":4,"k":3,"x":-1.25,"y":-2.25},{"s":4,"k":3,"x":-1,"y":-1.9},{"s":4,"k":3,"x":-0.7,"y":-1.2},{"s":4,"k":3,"x":-0.55,"y":0},{"s":4,"k":3,"x":-0.7,"y":1.2},{"s":4,"k":3,"x":-1,"y":1.9},
{"s":5,"k":4,"x":0,"y":1.95},{"s":5,"k":4,"x":0.2,"y":1.6},{"s":5,"k":4,"x":0.32,"y":1.1},{"s":5,"k":4,"x":0.2,"y":0.55},{"s":5,"k":4,"x":0,"y":0.1},{"s":5,"k":4,"x":-0.2,"y":0.55},{"s":5,"k":4,"x":-0.32,"y":1.1},{"s":5,"k":4,"x":-0.2,"y":1.6},
{"s":6,"k":4,"x":0,"y":-1.95},{"s":6,"k":4,"x":0.2,"y":-1.6},{"s":6,"k":4,"x":0.32,"y":-1.1},{"s":6,"k":4,"x":0.2,"y":-0.55},{"s":6,"k":4,"x":0,"y":-0.1},{"s":6,"k":4,"x":-0.2,"y":-0.55},{"s":6,"k":4,"x":-0.32,"y":-1.1},{"s":6,"k":4,"x":-0.2,"y":-1.6}
],
"bar":[{"k":0,"a":-0.88,"b":-1.42},{"k":1,"a":-1.42,"b":-1.95},{"k":2,"a":-1.95,"b":-2.49},{"k":3,"a":-2.49,"b":-3.02},{"k":4,"a":-3.02,"b":-3.56},{"k":5,"a":-3.56,"b":-4.1},{"k":6,"a":-4.1,"b":-4.63},{"k":7,"a":-4.63,"b":-5.17},{"k":8,"a":-5.17,"b":-5.7},{"k":9,"a":-5.7,"b":-6.24},{"k":10,"a":-6.24,"b":-6.71}],
"tick":[{"v":-1,"e":"-1","t":"10"},{"v":-1.95,"e":"-2","t":"10"},{"v":-3,"e":"-3","t":"10"},{"v":-4,"e":"-4","t":"10"},{"v":-4.95,"e":"-5","t":"10"},{"v":-6,"e":"-6","t":"10"}]
},
"concat":[
{"width":154,"height":154,"encoding":{
"x":{"field":"x","type":"quantitative","scale":{"domain":[-12.5,12.5],"nice":false,"zero":false},"axis":{"title":"x (fm)","values":[-10,-7.5,-5,-2.5,0,2.5,5,7.5,10],"labelExpr":"datum.value%5==0?toString(datum.value):''","tickSize":{"condition":{"test":"datum.value%5!=0","value":2},"value":4}}},
"y":{"field":"y","type":"quantitative","scale":{"domain":[-12.5,12.5],"nice":false,"zero":false},"axis":{"title":"z (fm)","values":[-10,-7.5,-5,-2.5,0,2.5,5,7.5,10],"labelExpr":"datum.value%5==0?toString(datum.value):''","tickSize":{"condition":{"test":"datum.value%5!=0","value":2},"value":4}}}},
"layer":[
{"data":{"name":"ar"},"mark":{"type":"line","filled":true,"order":false,"interpolate":"cardinal-closed","clip":true,"strokeWidth":0},"encoding":{"fill":{"field":"k","type":"nominal","legend":null,"scale":{"domain":[0,1,2,3,4,5,6,7,8,9,10,11],"range":["#ff0000","#ff8000","#ffff00","#80ff00","#00ff00","#00ff60","#00ffa0","#00ffff","#0080ff","#0000ff","#000000","#ffffff"]}}}},
{"data":{"name":"adots"},"mark":{"type":"line","filled":true,"order":false,"interpolate":"linear-closed","clip":true,"strokeWidth":0},"encoding":{"fill":{"field":"k","type":"nominal","legend":null},"detail":{"field":"s"}}},
{"data":{"name":"al"},"mark":{"type":"line","filled":true,"order":false,"interpolate":"linear-closed","clip":true,"strokeWidth":0},"encoding":{"fill":{"field":"k","type":"nominal","legend":null}}},
{"data":{"name":"cr"},"mark":{"type":"line","order":false,"interpolate":"cardinal-closed","clip":true,"stroke":"#800000","strokeWidth":0.6,"opacity":0.6}},
{"data":{"name":"lab"},"transform":[{"filter":"datum.p=='a'"}],"mark":{"type":"rect","fill":"white"},"encoding":{"x2":{"field":"x2"},"y2":{"field":"y2"}}},
{"data":{"name":"lab"},"transform":[{"filter":"datum.p=='a'"}],"mark":{"type":"text","font":"Liberation Sans","fontSize":9.5,"color":"#000"},"encoding":{"x":{"field":"tx","type":"quantitative"},"y":{"field":"ty","type":"quantitative"},"text":{"field":"t"}}}
]},
{"width":154,"height":154,"view":{"fill":null,"stroke":null},"encoding":{"y":{"type":"quantitative","scale":{"domain":[-9.1,0.07],"nice":false,"zero":false},"axis":null}},
"layer":[
{"data":{"name":"bar"},"mark":{"type":"rect"},"encoding":{"x":{"value":98},"x2":{"value":133},"y":{"field":"a"},"y2":{"field":"b"},"fill":{"field":"k","type":"nominal","legend":null,"scale":{"domain":[0,1,2,3,4,5,6,7,8,9,10,11],"range":["#ff0000","#ff8000","#ffff00","#80ff00","#00ff00","#00ff60","#00ffa0","#00ffff","#0080ff","#0000ff","#000000","#ffffff"]}}}},
{"data":{"name":"tick"},"mark":{"type":"text","font":"Liberation Sans","fontSize":9.5,"align":"right","baseline":"middle","color":"#000"},"encoding":{"x":{"value":87},"y":{"field":"v"},"text":{"field":"t"}}},
{"data":{"name":"tick"},"mark":{"type":"text","font":"Liberation Sans","fontSize":8,"align":"left","baseline":"middle","dy":-6,"color":"#000"},"encoding":{"x":{"value":87},"y":{"field":"v"},"text":{"field":"e"}}},
{"data":{"values":[{"v":-8.5,"t":"Mg"}]},"mark":{"type":"text","font":"Liberation Sans","fontSize":12.2,"align":"left","baseline":"middle","color":"#000"},"encoding":{"x":{"value":110},"y":{"field":"v"},"text":{"field":"t"}}},
{"data":{"values":[{"v":-8.2,"t":"44"}]},"mark":{"type":"text","font":"Liberation Sans","fontSize":9,"align":"right","baseline":"middle","color":"#000"},"encoding":{"x":{"value":109.5},"y":{"field":"v"},"text":{"field":"t"}}}
]},
{"width":154,"height":155,"encoding":{
"x":{"field":"x","type":"quantitative","scale":{"domain":[-12.5,12.5],"nice":false,"zero":false},"axis":{"title":"x (fm)","values":[-10,-7.5,-5,-2.5,0,2.5,5,7.5,10],"labelExpr":"datum.value%5==0?toString(datum.value):''","tickSize":{"condition":{"test":"datum.value%5!=0","value":2},"value":4}}},
"y":{"field":"y","type":"quantitative","scale":{"domain":[-12.5,12.5],"nice":false,"zero":false},"axis":{"title":"z (fm)","values":[-10,-7.5,-5,-2.5,0,2.5,5,7.5,10],"labelExpr":"datum.value%5==0?toString(datum.value):''","tickSize":{"condition":{"test":"datum.value%5!=0","value":2},"value":4}}}},
"layer":[
{"data":{"name":"b"},"mark":{"type":"line","filled":true,"order":false,"interpolate":"cardinal-closed","clip":true,"strokeWidth":0},"encoding":{"fill":{"field":"k","type":"nominal","legend":null,"scale":{"domain":[0,1,2,3,4,5,6,7,8,9,10,11],"range":["#ff0000","#ff8000","#ffff00","#80ff00","#00ff00","#00ff60","#00ffa0","#00ffff","#0080ff","#0000ff","#000000","#ffffff"]}}}},
{"data":{"name":"bd"},"mark":{"type":"circle","size":18,"color":"white","opacity":1}},
{"data":{"name":"cr"},"mark":{"type":"line","order":false,"interpolate":"cardinal-closed","clip":true,"stroke":"#800000","strokeWidth":0.6,"opacity":0.6}},
{"data":{"name":"lab"},"transform":[{"filter":"datum.p=='b'"}],"mark":{"type":"rect","fill":"white"},"encoding":{"x2":{"field":"x2"},"y2":{"field":"y2"}}},
{"data":{"name":"lab"},"transform":[{"filter":"datum.p=='b'"}],"mark":{"type":"text","font":"Liberation Sans","fontSize":9.5,"color":"#000"},"encoding":{"x":{"field":"tx","type":"quantitative"},"y":{"field":"ty","type":"quantitative"},"text":{"field":"t"}}}
]},
{"width":154,"height":155,"encoding":{
"x":{"field":"x","type":"quantitative","scale":{"domain":[-12.5,12.5],"nice":false,"zero":false},"axis":{"title":"x (fm)","values":[-10,-7.5,-5,-2.5,0,2.5,5,7.5,10],"labelExpr":"datum.value%5==0?toString(datum.value):''","tickSize":{"condition":{"test":"datum.value%5!=0","value":2},"value":4}}},
"y":{"field":"y","type":"quantitative","scale":{"domain":[-12.5,12.5],"nice":false,"zero":false},"axis":{"title":null,"values":[-10,-7.5,-5,-2.5,0,2.5,5,7.5,10],"labelExpr":"datum.value%5==0?toString(datum.value):''","tickSize":{"condition":{"test":"datum.value%5!=0","value":2},"value":4}}}},
"layer":[
{"data":{"name":"c"},"mark":{"type":"line","filled":true,"order":false,"interpolate":"cardinal-closed","clip":true,"strokeWidth":0},"encoding":{"fill":{"field":"k","type":"nominal","legend":null,"scale":{"domain":[0,1,2,3,4,5,6,7,8,9,10,11],"range":["#ff0000","#ff8000","#ffff00","#80ff00","#00ff00","#00ff60","#00ffa0","#00ffff","#0080ff","#0000ff","#000000","#ffffff"]}}}},
{"data":{"name":"c2"},"mark":{"type":"line","filled":true,"order":false,"interpolate":"linear-closed","clip":true,"strokeWidth":0},"encoding":{"fill":{"field":"k","type":"nominal","legend":null},"detail":{"field":"s"}}},
{"data":{"name":"cr"},"mark":{"type":"line","order":false,"interpolate":"cardinal-closed","clip":true,"stroke":"#800000","strokeWidth":0.6,"opacity":0.45}},
{"data":{"name":"lab"},"transform":[{"filter":"datum.p=='c'"}],"mark":{"type":"rect","fill":"white"},"encoding":{"x2":{"field":"x2"},"y2":{"field":"y2"}}},
{"data":{"name":"lab"},"transform":[{"filter":"datum.p=='c'"}],"mark":{"type":"text","font":"Liberation Sans","fontSize":9.5,"color":"#000"},"encoding":{"x":{"field":"tx","type":"quantitative"},"y":{"field":"ty","type":"quantitative"},"text":{"field":"t"}}}
]}
]}
